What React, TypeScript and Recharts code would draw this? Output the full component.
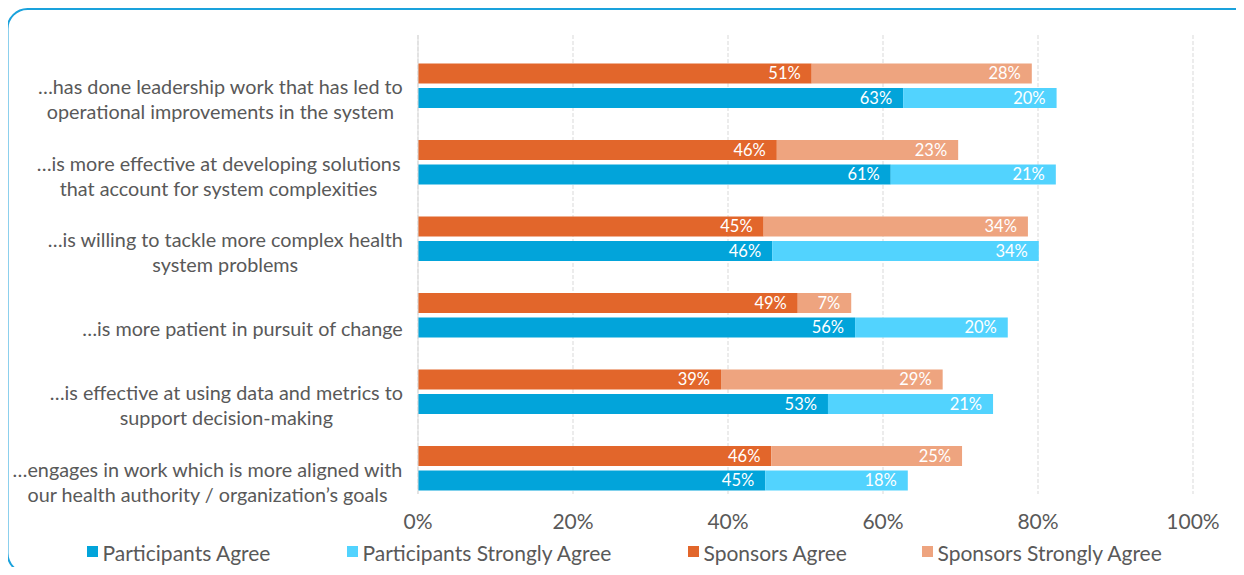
import React from "react";
import { BarChart, Bar, XAxis, YAxis, CartesianGrid, LabelList, Legend } from "recharts";

const categories = [
  "…has done leadership work that has led to\noperational improvements in the system",
  "…is more effective at developing  solutions\nthat account for system complexities",
  "…is willing to tackle more complex health\nsystem problems",
  "…is more patient in pursuit of change",
  "…is effective at using data and metrics to\nsupport decision-making",
  "…engages in work which is more aligned with\nour health authority / organization’s goals",
];

// values; labels show them rounded
const sponsorsAgree = [50.8, 46.3, 44.6, 49.0, 39.1, 45.6];
const sponsorsStrongly = [28.4, 23.4, 34.1, 6.9, 28.6, 24.6];
const participantsAgree = [62.6, 61.0, 45.7, 56.4, 52.9, 44.8];
const participantsStrongly = [19.8, 21.3, 34.4, 19.7, 21.3, 18.4];

const xTicks = [0, 20, 40, 60, 80, 100];

const seriesNames = {
  pa: "Participants Agree",
  ps: "Participants Strongly Agree",
  sa: "Sponsors Agree",
  ss: "Sponsors Strongly Agree",
};

const COLORS = {
  pa: "#02A4DA",
  ps: "#52D3FE",
  sa: "#E2662B",
  ss: "#EEA47F",
};

const TEXT = "#595959";
const FONT = "Lato, 'Open Sans', sans-serif";

const data = categories.map((c, i) => ({
  category: c,
  sa: sponsorsAgree[i],
  ss: sponsorsStrongly[i],
  pa: participantsAgree[i],
  ps: participantsStrongly[i],
}));

let canvasCtx: CanvasRenderingContext2D | null = null;
function measure(text: string, font: string): number {
  if (!canvasCtx) {
    const c = document.createElement("canvas");
    canvasCtx = c.getContext("2d");
  }
  if (!canvasCtx) return text.length * 9;
  canvasCtx.font = font;
  return canvasCtx.measureText(text).width;
}

const Y_FONT_SIZE = 19.8;
const LINE_H = 25;

const CategoryTick = (props: any) => {
  const { x, y, payload } = props;
  const lines: string[] = String(payload.value).split("\n");
  const font = `${Y_FONT_SIZE}px Lato`;
  const maxW = Math.max(...lines.map((l) => measure(l, font)));
  const cx = x - maxW / 2;
  const centerY = y + 25.5;
  const startY = centerY - ((lines.length - 1) * LINE_H) / 2;
  return (
    <g>
      {lines.map((l, i) => (
        <text
          key={i}
          x={cx}
          y={startY + i * LINE_H}
          textAnchor="middle"
          dominantBaseline="central"
          fill={TEXT}
          fontSize={Y_FONT_SIZE}
          fontFamily={FONT}
        >
          {l}
        </text>
      ))}
    </g>
  );
};

const legendOrder: Array<keyof typeof seriesNames> = ["pa", "ps", "sa", "ss"];
const legendLeft = [79, 339, 680, 914];

const renderLegend = () => (
  <div style={{ position: "relative", width: "100%", height: 24 }}>
    {legendOrder.map((k, i) => (
      <div
        key={k}
        style={{
          position: "absolute",
          left: legendLeft[i],
          top: 0,
          height: 24,
          display: "flex",
          alignItems: "center",
          fontFamily: FONT,
          fontSize: 21,
          color: TEXT,
          whiteSpace: "nowrap",
        }}
      >
        <span
          style={{
            display: "inline-block",
            width: 10.5,
            height: 10.5,
            background: COLORS[k],
            marginRight: 5,
            marginTop: -1,
          }}
        />
        {seriesNames[k]}
      </div>
    ))}
  </div>
);

const pct = (v: any) => `${v}%`;
const roundPct = (v: any) => `${Math.round(Number(v))}%`;

const labelProps = {
  position: "insideRight" as const,
  offset: 11,
  formatter: roundPct,
  fill: "#FFFFFF",
  fontSize: 16.5,
  fontFamily: FONT,
};

export default function App() {
  return (
    <div
      style={{
        position: "relative",
        width: 1244,
        height: 567,
        marginLeft: -8,
        marginBottom: -8,
        overflow: "hidden",
      }}
    >
      <div style={{ position: "absolute", left: 8, top: 0 }}>
        <BarChart
          width={1236}
          height={567}
          data={data}
          layout="vertical"
          margin={{ top: 27, right: 51, bottom: 41, left: 0 }}
          barSize={20}
          barGap={4.5}
        >
          <CartesianGrid
            horizontal={false}
            vertical={true}
            stroke="#D9D9D9"
            strokeDasharray="4 2"
          />
          <XAxis
            type="number"
            domain={[0, 100]}
            ticks={xTicks}
            tickFormatter={pct}
            axisLine={false}
            tickLine={false}
            tickSize={0}
            tickMargin={20}
            height={40}
            tick={{ fill: TEXT, fontSize: 21, fontFamily: FONT }}
            interval={0}
          />
          <YAxis
            type="category"
            dataKey="category"
            width={410}
            axisLine={{ stroke: "#D9D9D9" }}
            tickLine={false}
            tickSize={0}
            tickMargin={15}
            tick={<CategoryTick />}
            interval={0}
          />
          <Legend
            layout="horizontal"
            verticalAlign="middle"
            align="center"
            content={renderLegend}
            wrapperStyle={{ position: "absolute", top: 532, left: 0, width: 1236, height: 24 }}
          />
          <Bar dataKey="spacer" stackId="x" legendType="none" isAnimationActive={false} />
          <Bar dataKey="sa" name={seriesNames.sa} stackId="s" fill={COLORS.sa} isAnimationActive={false}>
            <LabelList dataKey="sa" {...labelProps} />
          </Bar>
          <Bar dataKey="ss" name={seriesNames.ss} stackId="s" fill={COLORS.ss} isAnimationActive={false}>
            <LabelList dataKey="ss" {...labelProps} />
          </Bar>
          <Bar dataKey="pa" name={seriesNames.pa} stackId="p" fill={COLORS.pa} isAnimationActive={false}>
            <LabelList dataKey="pa" {...labelProps} />
          </Bar>
          <Bar dataKey="ps" name={seriesNames.ps} stackId="p" fill={COLORS.ps} isAnimationActive={false}>
            <LabelList dataKey="ps" {...labelProps} />
          </Bar>
        </BarChart>
      </div>
      <svg
        width={1244}
        height={567}
        style={{ position: "absolute", left: 0, top: 0, pointerEvents: "none" }}
      >
        <rect
          x={7.5}
          y={1}
          width={1300}
          height={564}
          rx={20}
          ry={20}
          fill="none"
          stroke="#1AA2DC"
          strokeWidth={2}
        />
      </svg>
    </div>
  );
}
